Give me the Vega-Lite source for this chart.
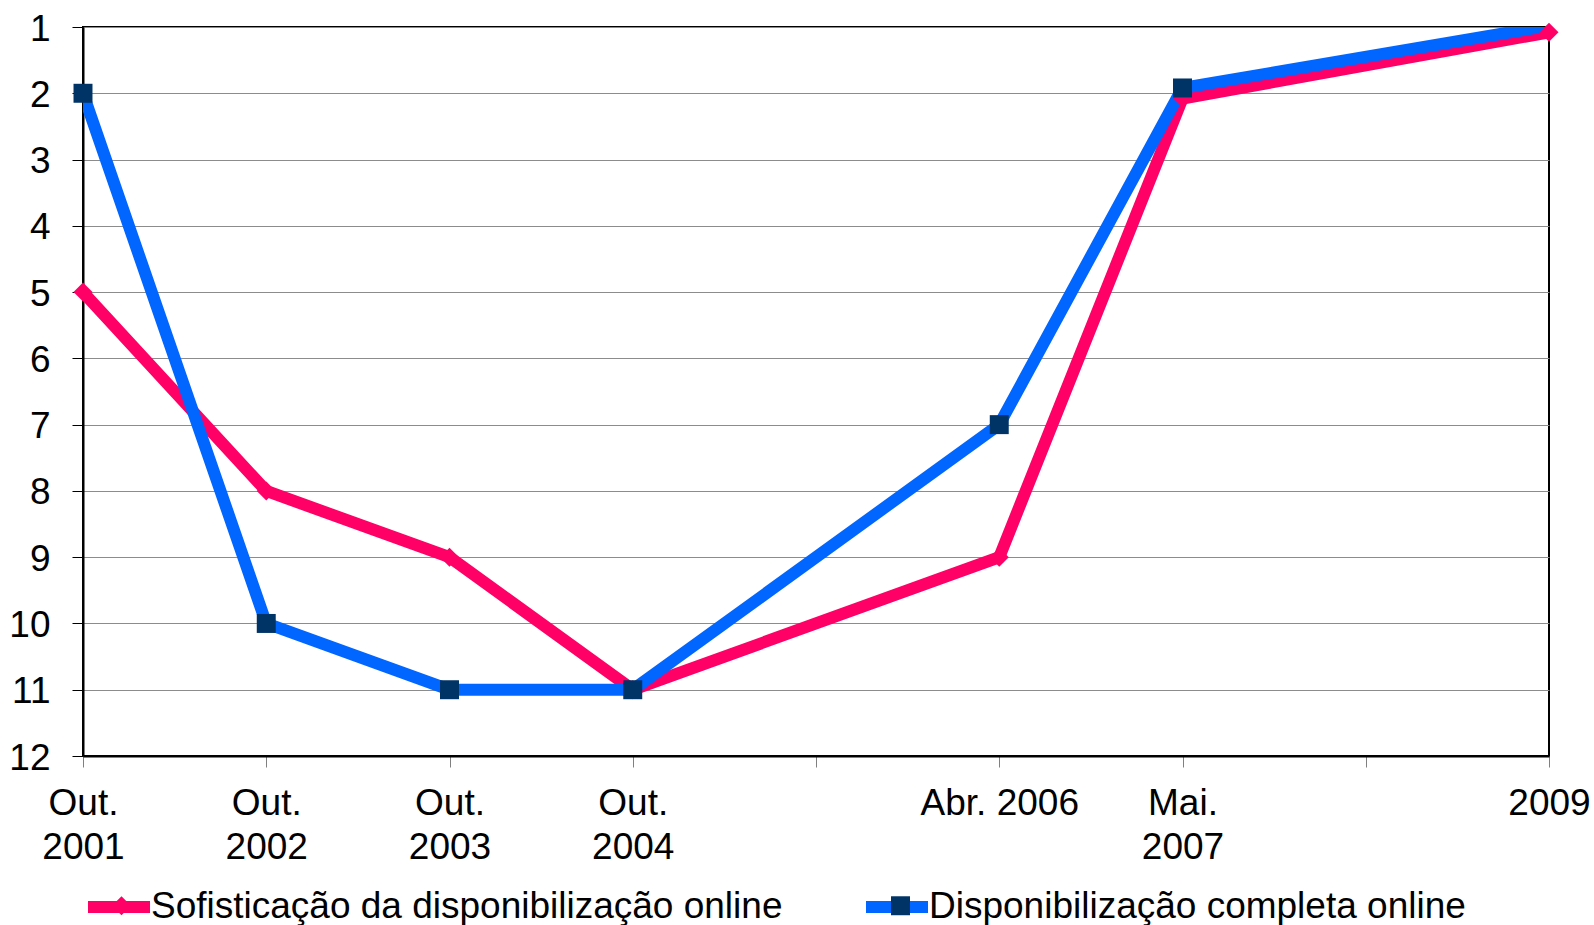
{
  "$schema": "https://vega.github.io/schema/vega-lite/v6.json",
  "width": 1466,
  "height": 729,
  "autosize": {"type": "none"},
  "padding": {"left": 83, "top": 27, "right": 45, "bottom": 169},
  "background": "white",
  "config": {
    "view": {"stroke": "black", "strokeWidth": 2},
    "font": "Liberation Sans",
    "axis": {"labelFont": "Liberation Sans", "labelColor": "black"},
    "legend": {"labelFont": "Liberation Sans", "labelColor": "black"}
  },
  "data": {
    "values": [
      {"periodo": "Out. 2001", "serie": "Sofisticação da disponibilização online", "posicao": 5},
      {"periodo": "Out. 2002", "serie": "Sofisticação da disponibilização online", "posicao": 8},
      {"periodo": "Out. 2003", "serie": "Sofisticação da disponibilização online", "posicao": 9},
      {"periodo": "Out. 2004", "serie": "Sofisticação da disponibilização online", "posicao": 11},
      {"periodo": "Abr. 2006", "serie": "Sofisticação da disponibilização online", "posicao": 9},
      {"periodo": "Mai. 2007", "serie": "Sofisticação da disponibilização online", "posicao": 2.08},
      {"periodo": "2009", "serie": "Sofisticação da disponibilização online", "posicao": 1.08},
      {"periodo": "Out. 2001", "serie": "Disponibilização completa online", "posicao": 2},
      {"periodo": "Out. 2002", "serie": "Disponibilização completa online", "posicao": 10},
      {"periodo": "Out. 2003", "serie": "Disponibilização completa online", "posicao": 11},
      {"periodo": "Out. 2004", "serie": "Disponibilização completa online", "posicao": 11},
      {"periodo": "Abr. 2006", "serie": "Disponibilização completa online", "posicao": 7},
      {"periodo": "Mai. 2007", "serie": "Disponibilização completa online", "posicao": 1.92},
      {"periodo": "2009", "serie": "Disponibilização completa online", "posicao": 0.98}
    ]
  },
  "encoding": {
    "x": {
      "field": "periodo",
      "type": "ordinal",
      "scale": {"type": "point", "padding": 0, "domain": ["Out. 2001", "Out. 2002", "Out. 2003", "Out. 2004", " ", "Abr. 2006", "Mai. 2007", "  ", "2009"]},
      "axis": {
        "title": null,
        "labelAngle": 0,
        "labelFontSize": 37,
        "labelLineHeight": 44,
        "labelPadding": 18,
        "labelOverlap": false,
        "labelFlush": false,
        "labelBound": false,
        "labelLimit": 1000,
        "tickSize": 11,
        "tickColor": "#808080",
        "tickWidth": 1,
        "domainColor": "black",
        "domainWidth": 2,
        "grid": false,
        "labelExpr": "indexof(datum.value, 'Out.') == 0 || indexof(datum.value, 'Mai.') == 0 ? split(datum.value, ' ') : datum.value"
      }
    },
    "y": {
      "field": "posicao",
      "type": "quantitative",
      "scale": {"domain": [1, 12], "reverse": true, "nice": false, "zero": false},
      "axis": {
        "title": null,
        "values": [1, 2, 3, 4, 5, 6, 7, 8, 9, 10, 11, 12],
        "format": "d",
        "labelFontSize": 37,
        "labelPadding": 22,
        "labelOffset": 2,
        "labelOverlap": false,
        "labelFlush": false,
        "labelBound": false,
        "tickSize": 11,
        "tickColor": "black",
        "tickWidth": 1,
        "domainColor": "black",
        "domainWidth": 2,
        "grid": true,
        "gridColor": "#8c8c8c",
        "gridWidth": 1
      }
    }
  },
  "layer": [
    {
      "transform": [{"filter": "datum.serie == 'Sofisticação da disponibilização online'"}],
      "mark": {"type": "line", "strokeWidth": 12, "clip": true},
      "encoding": {
        "color": {
          "field": "serie",
          "type": "nominal",
          "scale": {"domain": ["Sofisticação da disponibilização online", "Disponibilização completa online"], "range": ["#FF0066", "#0066FF"]},
          "legend": {
            "orient": "none",
            "legendX": -1,
            "legendY": 843,
            "direction": "horizontal",
            "title": null,
            "padding": 0,
            "labelFontSize": 37,
            "labelOffset": -5,
            "labelLimit": 1000,
            "columnPadding": 59,
            "symbolType": "stroke",
            "symbolSize": 3844,
            "symbolStrokeWidth": 12
          }
        }
      }
    },
    {
      "transform": [{"filter": "datum.serie == 'Disponibilização completa online'"}],
      "mark": {"type": "line", "strokeWidth": 12, "clip": true},
      "encoding": {
        "color": {"field": "serie", "type": "nominal"}
      }
    },
    {
      "transform": [{"filter": "datum.posicao >= 1"}],
      "mark": {"type": "point", "filled": true, "opacity": 1, "size": 360, "strokeWidth": 0},
      "encoding": {
        "fill": {
          "field": "serie",
          "type": "nominal",
          "scale": {"domain": ["Disponibilização completa online", "Sofisticação da disponibilização online"], "range": ["#003366", "#FF0066"]},
          "legend": {
            "orient": "none",
            "legendX": 20,
            "legendY": 860,
            "direction": "horizontal",
            "title": null,
            "padding": 0,
            "values": ["Sofisticação da disponibilização online", "Disponibilização completa online"],
            "labelExpr": "''",
            "labelFontSize": 37,
            "labelOffset": -2,
            "labelLimit": 1000,
            "columnPadding": 744,
            "symbolSize": 360,
            "symbolStrokeWidth": 0
          }
        },
        "shape": {
          "field": "serie",
          "type": "nominal",
          "scale": {"domain": ["Disponibilização completa online", "Sofisticação da disponibilização online"], "range": ["square", "diamond"]},
          "legend": {
            "orient": "none",
            "legendX": 20,
            "legendY": 860,
            "direction": "horizontal",
            "title": null,
            "padding": 0,
            "values": ["Sofisticação da disponibilização online", "Disponibilização completa online"],
            "labelExpr": "''",
            "labelFontSize": 37,
            "labelOffset": -2,
            "labelLimit": 1000,
            "columnPadding": 744,
            "symbolSize": 360,
            "symbolStrokeWidth": 0
          }
        }
      }
    }
  ]
}
